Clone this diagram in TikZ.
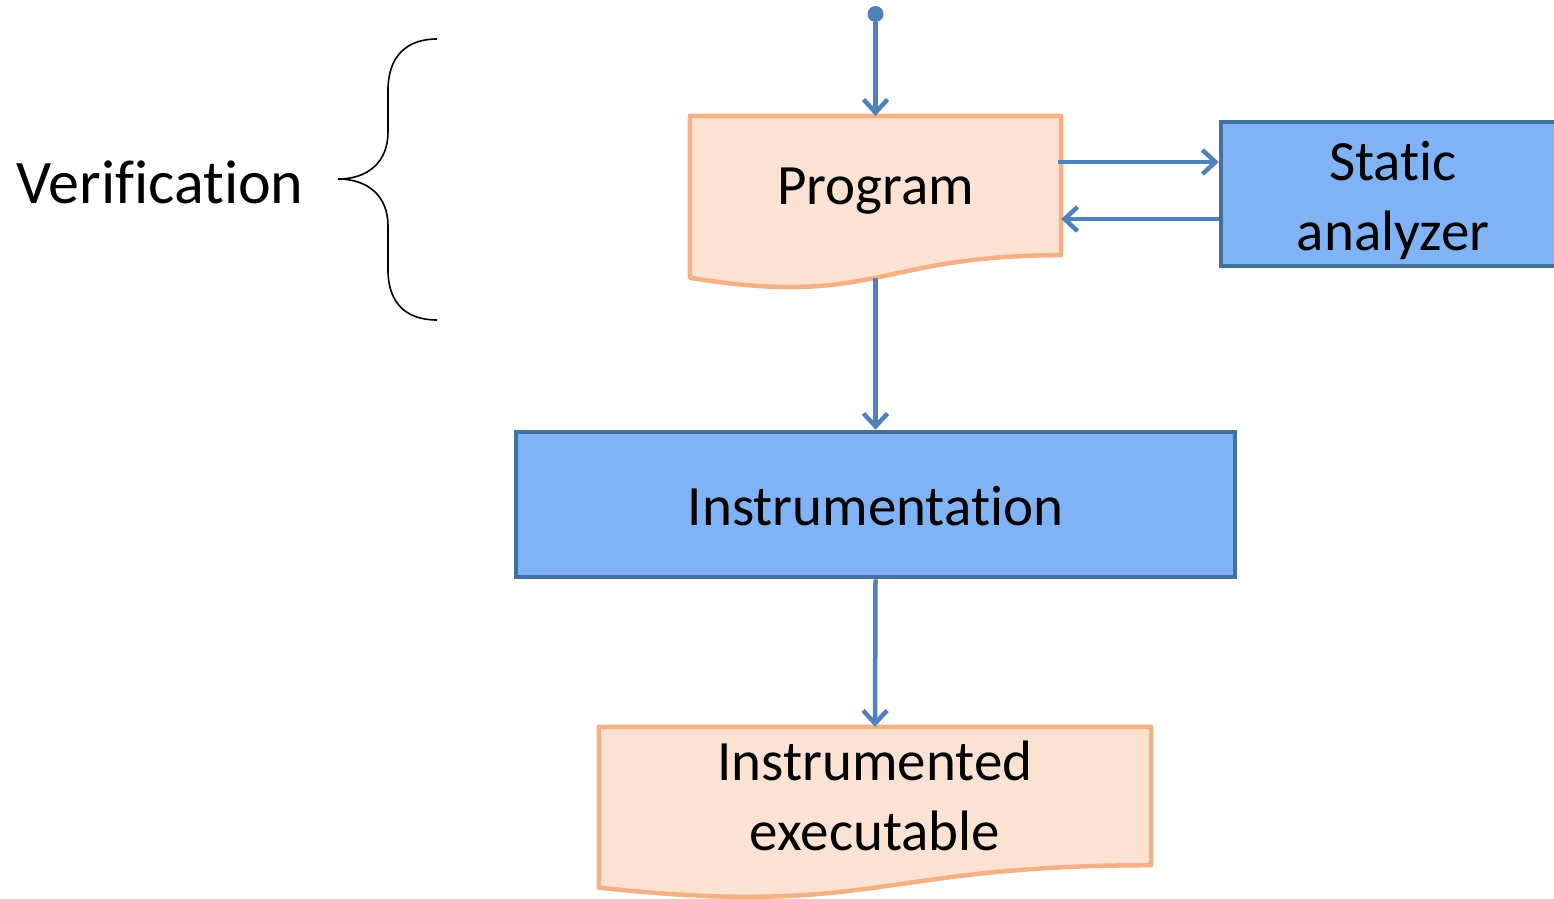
\documentclass[tikz,border=0pt]{standalone}
\usepackage{fontspec}
\setmainfont{Carlito}[RawFeature={-liga;-dlig;-clig}]
\usetikzlibrary{arrows.meta,calc,backgrounds}
\definecolor{docfill}{RGB}{251,226,210}
\definecolor{docline}{RGB}{244,177,131}
\definecolor{boxfill}{RGB}{128,178,246}
\definecolor{boxline}{RGB}{65,113,156}
\definecolor{arrowblue}{RGB}{79,129,189}
\tikzset{
  bigtext/.style={font=\fontsize{57}{69}\selectfont, align=center, inner sep=0pt},
  docnode/.style={inner sep=0pt},
  procbox/.style={draw=boxline, fill=boxfill, line width=4.5pt, inner sep=0pt},
  docshape/.style={draw=docline, fill=docfill, line width=4.5pt, line join=round},
  arr/.style={draw=arrowblue, line width=4.5pt, -{Straight Barb[length=13pt,width=24pt,line width=4.5pt]}},
  bracestyle/.style={draw=black, line width=1.6pt}
}
\begin{document}
\begin{tikzpicture}[x=1pt,y=-1pt]
\clip (0,0) rectangle (1554,898);
\useasboundingbox (0,0) rectangle (1554,898);

% nodes
\node[circle, fill=arrowblue, inner sep=0pt, minimum size=16pt] (start) at (875.5,14) {};
\node[docnode, minimum width=371pt, minimum height=139pt,
  label={[bigtext, yshift=-6pt]center:Program}] (prog) at (875.5,185.5) {};
\node[procbox, minimum width=344pt, minimum height=144pt,
  label={[bigtext, yshift=-6pt, font=\fontsize{57}{70}\selectfont]center:Static\\analyzer}] (static) at (1393,194) {};
\node[procbox, minimum width=719pt, minimum height=145pt,
  label={[bigtext, yshift=-2pt]center:Instrumentation}] (instr) at (875.5,504.5) {};
\node[docnode, minimum width=552pt, minimum height=138pt,
  label={[bigtext, font=\fontsize{57}{70}\selectfont]center:Instrumented\\executable}] (exe) at (875,796) {};
\node[font=\fontsize{62}{74}\selectfont, inner sep=0pt] (verif) at (160,182) {Verification};

% document shapes
\begin{scope}[on background layer]
\path[docshape] (prog.north west) -- (prog.north east) -- (prog.south east)
  .. controls (prog.south) and ($(prog.south)+(0,52.6)$) .. ($(prog.south west)+(0,22.6)$) -- cycle;
\path[docshape] (exe.north west) -- (exe.north east) -- (exe.south east)
  .. controls (exe.south) and ($(exe.south)+(0,52.3)$) .. ($(exe.south west)+(0,22.4)$) -- cycle;
\end{scope}

\coordinate (progbot) at ($(prog.south)+(0,22.5)$);

% connectors
\draw[arr] (start) -- (prog.north);
\draw[arr] (progbot) -- (instr.north);
\draw[arr] (instr.south) -- (exe.north);
\draw[arr] ([yshift=23.5pt,xshift=-3pt]prog.east) -- ([yshift=23.5pt]prog.east -| static.west);
\draw[arr] ([yshift=-33.5pt]prog.east -| static.west) -- ([yshift=-33.5pt]prog.east);

% brace
\draw[bracestyle] (437,39) .. controls (405,39) and (388,58) .. (388,90) -- (388,132)
  .. controls (388,162) and (368,179) .. (338,179)
  .. controls (368,179) and (388,196) .. (388,226) -- (388,270)
  .. controls (388,302) and (405,320) .. (437,320);
\end{tikzpicture}
\end{document}
